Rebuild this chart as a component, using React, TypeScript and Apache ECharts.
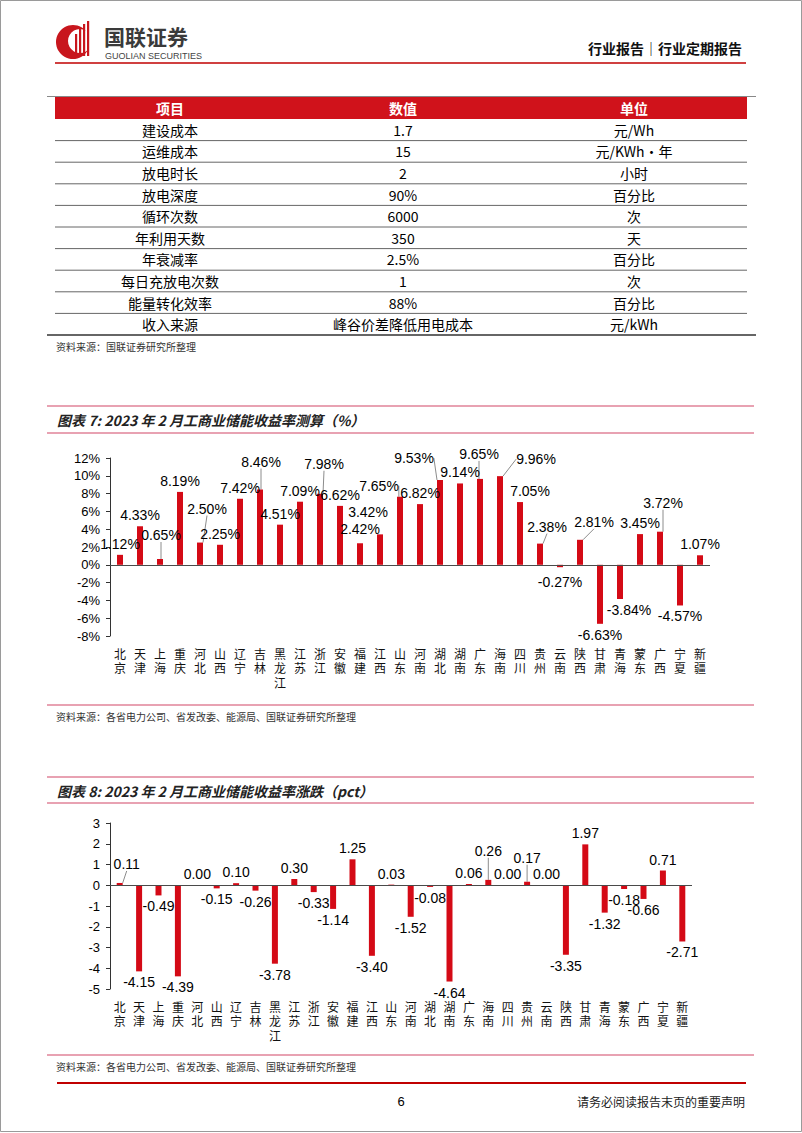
import React, { useEffect, useRef } from "react";
import * as echarts from "echarts";

// ---------- data ----------
const provinces = ["北京", "天津", "上海", "重庆", "河北", "山西", "辽宁", "吉林", "黑龙江", "江苏", "浙江", "安徽", "福建", "江西", "山东", "河南", "湖北", "湖南", "广东", "海南", "四川", "贵州", "云南", "陕西", "甘肃", "青海", "蒙东", "广西", "宁夏", "新疆"];
const yieldRate = [1.12, 4.33, 0.65, 8.19, 2.5, 2.25, 7.42, 8.46, 4.51, 7.09, 7.98, 6.62, 2.42, 3.42, 7.65, 6.82, 9.53, 9.14, 9.65, 9.96, 7.05, 2.38, -0.27, 2.81, -6.63, -3.84, 3.45, 3.72, -4.57, 1.07];
const yieldChange = [0.11, -4.15, -0.49, -4.39, 0.0, -0.15, 0.1, -0.26, -3.78, 0.3, -0.33, -1.14, 1.25, -3.4, 0.03, -1.52, -0.08, -4.64, 0.06, 0.26, 0.0, 0.17, 0.0, -3.35, 1.97, -1.32, -0.18, -0.66, 0.71, -2.71];

const tableHeaders = ["项目", "数值", "单位"];
const tableItems = ["建设成本", "运维成本", "放电时长", "放电深度", "循环次数", "年利用天数", "年衰减率", "每日充放电次数", "能量转化效率", "收入来源"];
const tableValues = ["1.7", "15", "2", "90%", "6000", "350", "2.5%", "1", "88%", "峰谷价差降低用电成本"];
const tableUnits = ["元/Wh", "元/KWh·年", "小时", "百分比", "次", "天", "百分比", "次", "百分比", "元/kWh"];

// ---------- label adjustments (styling, not data) ----------
const off7: Record<number, [number, number, boolean]> = {
  2: [1, -13, true],
  4: [7, -23, true],
  7: [1, -17, true],
  10: [4, -19, true],
  12: [0, -3, false],
  13: [-12, -11, false],
  14: [-21, 0, true],
  16: [-26, -11, true],
  18: [-1, -14, true],
  19: [36, -6, true],
  20: [10, 0, false],
  21: [7, -6, true],
  22: [0, 4, false],
  23: [14, -7, true],
  25: [9, 0, false],
  27: [3, -18, true],
};
const off8: Record<number, [number, number, boolean]> = {
  0: [7, -8, true],
  19: [0, -18, true],
  21: [0, -13, true],
};

const RED = "#D40A16";
const PINK = "#E8A2B2";
const NUM_FONT = "Liberation Sans, Arial, sans-serif";
const CJK = "Noto Sans CJK SC, sans-serif";

function txt(text: string, x: number, y: number, opt: any = {}) {
  const align = opt.align || "left";
  return {
    type: "text",
    silent: true,
    style: {
      text,
      x,
      y,
      fill: opt.fill || "#000",
      fontSize: opt.fontSize || 14,
      fontFamily: opt.fontFamily || CJK,
      fontWeight: opt.fontWeight || "normal",
      fontStyle: opt.fontStyle || "normal",
      align,
      textAlign: align,
      verticalAlign: "middle",
      textVerticalAlign: "middle",
    },
  };
}
function hline(x1: number, x2: number, y: number, color: string, w: number) {
  return { type: "line", silent: true, shape: { x1, y1: y, x2, y2: y }, style: { stroke: color, lineWidth: w } };
}

function buildGraphics() {
  const g: any[] = [];
  // page border
  g.push({ type: "rect", silent: true, shape: { x: 0.5, y: 0.5, width: 801, height: 1131 }, style: { fill: "none", stroke: "#9a9a9a", lineWidth: 1 } });
  // logo
  g.push({ type: "circle", silent: true, shape: { cx: 73, cy: 42, r: 17 }, style: { fill: "#C8161D" } });
  g.push({ type: "circle", silent: true, shape: { cx: 80, cy: 41, r: 12 }, style: { fill: "#fff" } });
  [[75, 34], [79, 28], [83, 24], [87, 21]].forEach(([x, top]) => {
    g.push({ type: "rect", silent: true, shape: { x, y: top, width: 2.2, height: 56 - top }, style: { fill: "#C8161D" } });
  });
  g.push(txt("国联证券", 104, 36, { fontSize: 21, fontWeight: "bold", fill: "#3a3a3a" }));
  g.push(txt("GUOLIAN SECURITIES", 105, 56, { fontSize: 9, fontFamily: NUM_FONT, fill: "#444" }));
  g.push(txt("行业报告｜行业定期报告", 742, 48, { fontSize: 14, fontWeight: "bold", align: "right", fill: "#111" }));
  g.push(hline(55, 746, 63, "#C00000", 1.5));

  // table
  g.push(hline(47, 756, 96.5, "#888", 1));
  g.push({ type: "rect", silent: true, shape: { x: 55, y: 97, width: 692, height: 22 }, style: { fill: "#D0121B" } });
  const colX = [170, 403, 634];
  tableHeaders.forEach((h, i) => g.push(txt(h, colX[i], 108, { fill: "#fff", fontWeight: "bold", align: "center" })));
  const rowH = 21.6;
  tableItems.forEach((item, i) => {
    const cy = 119 + rowH * i + rowH / 2;
    g.push(txt(item, colX[0], cy, { align: "center" }));
    g.push(txt(tableValues[i], colX[1], cy, { align: "center" }));
    g.push(txt(tableUnits[i], colX[2], cy, { align: "center" }));
    if (i < tableItems.length - 1) g.push(hline(55, 747, 119 + rowH * (i + 1), "#666", 1));
  });
  g.push(hline(47, 756, 335, "#333", 1.5));
  g.push(txt("资料来源：国联证券研究所整理", 56, 346, { fontSize: 10, fill: "#333" }));

  // chart 7 frame
  g.push(hline(47, 754, 406, PINK, 2));
  g.push(txt("图表 7: 2023 年 2 月工商业储能收益率测算（%）", 57, 420, { fontSize: 14, fontWeight: "bold", fontStyle: "italic", fill: "#222" }));
  g.push(hline(47, 754, 433, PINK, 2));
  g.push(hline(47, 754, 705, PINK, 2));
  g.push(txt("资料来源：各省电力公司、省发改委、能源局、国联证券研究所整理", 56, 716, { fontSize: 10, fill: "#333" }));

  // chart 8 frame
  g.push(hline(47, 754, 777, PINK, 2));
  g.push(txt("图表 8: 2023 年 2 月工商业储能收益率涨跌（pct）", 57, 791, { fontSize: 14, fontWeight: "bold", fontStyle: "italic", fill: "#222" }));
  g.push(hline(47, 754, 803, PINK, 2));
  g.push(hline(47, 754, 1055, PINK, 2));
  g.push(txt("资料来源：各省电力公司、省发改委、能源局、国联证券研究所整理", 56, 1066, { fontSize: 10, fill: "#333" }));

  // footer
  g.push(hline(57, 746, 1083, "#C00000", 2));
  g.push(txt("6", 401, 1101, { fontSize: 13, fontFamily: NUM_FONT, align: "center" }));
  g.push(txt("请务必阅读报告末页的重要声明", 745, 1101, { fontSize: 12, align: "right", fill: "#222" }));
  return g;
}

function barSeries(values: number[], offs: Record<number, [number, number, boolean]>, idx: number, pct: boolean) {
  return {
    type: "bar",
    xAxisIndex: idx,
    yAxisIndex: idx,
    barWidth: 6,
    itemStyle: { color: RED },
    data: values.map((v, i) => ({
      value: v,
      label: { position: v < 0 ? "bottom" : "top" },
      labelLine: { show: !!(offs[i] && offs[i][2]) },
    })),
    label: {
      show: true,
      distance: 4,
      fontSize: 14,
      fontFamily: NUM_FONT,
      color: "#000",
      formatter: (p: any) => Number(p.value).toFixed(2) + (pct ? "%" : ""),
    },
    labelLine: { show: false, lineStyle: { color: "#8c8c8c", width: 1 } },
    labelLayout: (p: any) => {
      const o = offs[p.dataIndex];
      return o ? { dx: o[0], dy: o[1] } : {};
    },
    markLine: {
      silent: true,
      symbol: "none",
      label: { show: false },
      lineStyle: { color: "#4a4a4a", width: 1, type: "solid" },
      data: [{ yAxis: 0 }],
    },
  };
}

function xAxis(idx: number) {
  return {
    type: "category",
    gridIndex: idx,
    data: provinces,
    axisLine: { show: false, onZero: false },
    axisTick: { show: false },
    axisLabel: {
      interval: 0,
      margin: 10,
      fontSize: 12,
      lineHeight: 14.5,
      fontFamily: CJK,
      color: "#111",
      formatter: (v: string) => v.split("").join("\n"),
    },
  };
}

function yAxis(idx: number, min: number, max: number, interval: number, pct: boolean) {
  return {
    type: "value",
    gridIndex: idx,
    min,
    max,
    interval,
    splitLine: { show: false },
    axisLine: { show: true, onZero: false, lineStyle: { color: "#333" } },
    axisTick: { show: true, length: 4, lineStyle: { color: "#333" } },
    axisLabel: {
      margin: 10,
      fontSize: 13,
      fontFamily: NUM_FONT,
      color: "#000",
      formatter: (v: number) => (pct ? v + "%" : String(v)),
    },
  };
}

export default function App() {
  const ref = useRef<HTMLDivElement>(null);
  useEffect(() => {
    if (!ref.current) return;
    const chart = echarts.init(ref.current, undefined, { renderer: "svg" });
    chart.setOption({
      animation: false,
      backgroundColor: "#fff",
      grid: [
        { left: 110, top: 458, width: 600, height: 178 },
        { left: 110, top: 823, width: 582, height: 166 },
      ],
      xAxis: [xAxis(0), xAxis(1)],
      yAxis: [yAxis(0, -8, 12, 2, true), yAxis(1, -5, 3, 1, false)],
      series: [barSeries(yieldRate, off7, 0, true), barSeries(yieldChange, off8, 1, false)],
      graphic: { elements: buildGraphics() },
    });
    return () => chart.dispose();
  }, []);
  return <div ref={ref} style={{ position: "absolute", left: 0, top: 0, width: 802, height: 1133 }} />;
}
